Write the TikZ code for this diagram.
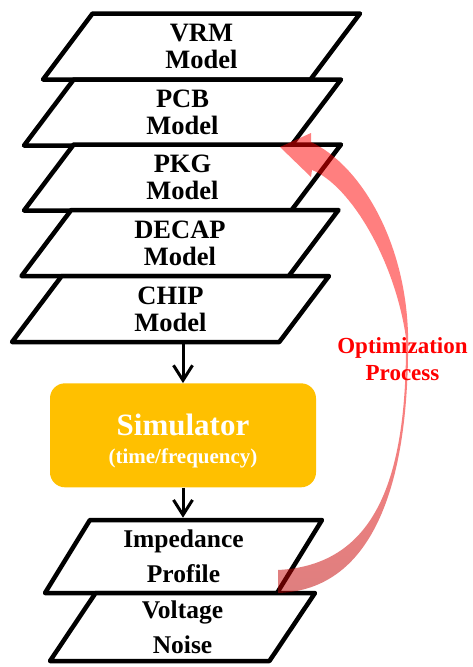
\documentclass[tikz,border=0pt]{standalone}
\usepackage{fontspec}
\setmainfont{Liberation Serif}
\usetikzlibrary{shapes.geometric}
\usetikzlibrary{arrows.meta}
\definecolor{simyellow}{RGB}{255,192,0}
\definecolor{optdark}{RGB}{190,0,0}
\tikzset{
 layer/.style={trapezium, trapezium stretches body, draw, line width=4.5pt, line join=round, fill=white, align=center, font=\bfseries\fontsize{26.5}{27}\selectfont, trapezium left angle=46, trapezium right angle=134, minimum width=317pt, minimum height=66pt},
 flow/.style={line width=3pt, -{Straight Barb[length=15pt,width=19pt]}}
}
\begin{document}
\begin{tikzpicture}[x=1pt,y=-1pt]
\useasboundingbox (0,0) rectangle (472,667);
\foreach \name/\txt/\x/\y in {vrm/VRM/201.5/46.5, pcb/PCB/182.5/112.5, pkg/PKG/182.5/177.5, decap/DECAP/180/243, chip/CHIP/170.5/309}
 \node[layer] (\name) at (\x,\y) {\txt\\Model};
\node[layer, trapezium left angle=53, trapezium right angle=127, minimum width=277pt, minimum height=73pt, font=\bfseries\fontsize{25.5}{35}\selectfont] (imp) at (183.5,556.5) {Impedance\\Profile};
\node[layer, trapezium left angle=52.6, trapezium right angle=127.4, minimum width=265pt, minimum height=68pt, font=\bfseries\fontsize{25.5}{35}\selectfont] (volt) at (182.5,627) {Voltage\\Noise};
\node[fill=simyellow, rounded corners=15pt, minimum width=266pt, minimum height=104pt, text=white, align=center, font=\bfseries\fontsize{21}{28}\selectfont, text height=56pt, text depth=0pt] (sim) at (183,435.3) {{\fontsize{31}{31}\selectfont Simulator}\\(time/frequency)};
\draw[flow] (chip.south -| sim.north) -- (sim.north);
\draw[flow] (sim.south) -- (sim.south |- imp.north);
\shade[top color=red, bottom color=optdark, middle color=red, opacity=.5]
 (311,133) -- (280,147) -- (311,177) -- (312,170)
 .. controls (350,185) and (395,260) .. (406,338)
 .. controls (407,480) and (375,565) .. (278,570)
 -- (278,593)
 .. controls (375,590) and (410,480) .. (408,333)
 .. controls (405,240) and (360,165) .. (311,142) -- cycle;
\node[text=red, align=center, font=\bfseries\fontsize{23}{27}\selectfont] (opt) at (402.5,359) {Optimization\\Process};
\end{tikzpicture}
\end{document}
